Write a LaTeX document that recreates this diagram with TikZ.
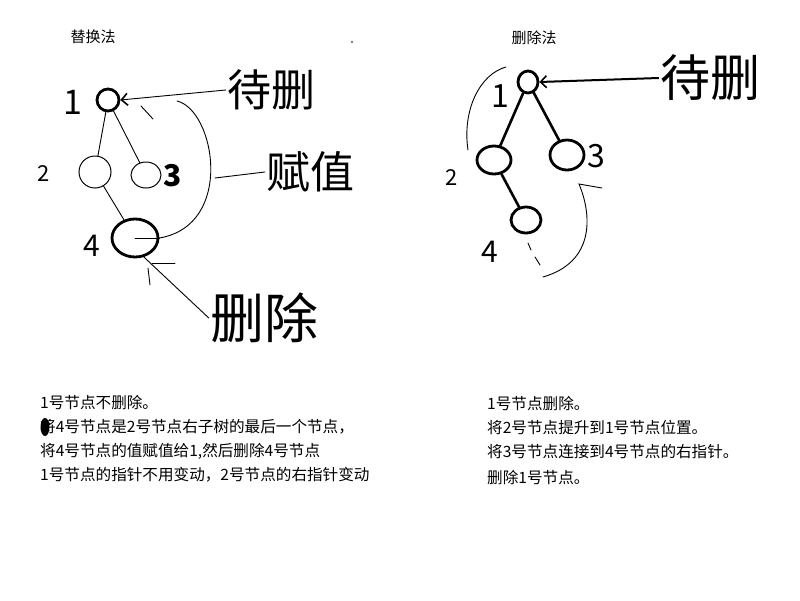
\documentclass[tikz,border=0pt]{standalone}
\usepackage{fontspec}
\newfontfamily\cjk{Noto Sans CJK SC}
\usetikzlibrary{shapes.geometric,arrows.meta}
\begin{document}
\begin{tikzpicture}[x=1pt,y=-1pt,
  thinnode/.style={draw,ellipse,line width=1pt,inner sep=0pt},
  thicknode/.style={draw,ellipse,line width=2.8pt,inner sep=0pt},
  thinline/.style={line width=0.9pt,line cap=round},
  thickline/.style={line width=2.6pt,line cap=round},
  handarrow/.style={-{Straight Barb[length=6pt,width=12pt,line width=1.6pt]}},
  title/.style={font=\cjk\fontsize{15}{15}\selectfont},
  body/.style={font=\cjk\fontsize{15.6}{24}\selectfont,anchor=west,inner sep=0pt},
  hand/.style={font=\cjk\fontsize{#1}{#1}\selectfont,inner sep=1pt},
  digit/.style={font=\cjk\fontsize{#1}{#1}\selectfont,inner sep=0pt}]
\useasboundingbox[fill=white] (0,0) rectangle (800,600);

% ---------------- left: 替换法 ----------------
\node[title] (ltitle) at (93,37) {替换法};
\node[thicknode,minimum width=22pt,minimum height=22pt] (ln1) at (108,100) {};
\node[thinnode,minimum width=32pt,minimum height=32pt] (ln2) at (95,172) {};
\node[thinnode,minimum width=30pt,minimum height=26pt] (ln3) at (146,175) {};
\node[thicknode,minimum width=46pt,minimum height=38pt] (ln4) at (135,238) {};
\node[digit=34] (ll1) at (73,102) {1};
\node[digit=22] (ll2) at (44,174) {2};
\node[digit=30,font=\cjk\bfseries\fontsize{30}{30}\selectfont] (ll3) at (173,176) {3};
\node[digit=30] (ll4) at (92,246) {4};
\draw[thinline] (ln1) -- (ln2);
\draw[thinline] (ln1) -- (ln3);
\draw[thinline] (ln2) -- (ln4);

\node[hand=44] (ldai) at (271,90) {待删};
\node[hand=44] (lfu) at (310,172) {赋值};
\node[hand=54] (lshan) at (264,318) {删除};
\draw[thinline,handarrow] (ldai.west) -- (ln1.east);
\coordinate (larcs) at (177,101);
\draw[thinline] (larcs) .. controls (215,110) and (235,225) .. (ln4.east);
\draw[thinline] (ln4.center) -- (ln4.east);
\coordinate (lfus) at (215,178);
\draw[thinline] (lfus) -- (lfu.west);
\coordinate (ldash1) at (141,106);
\coordinate (ldash2) at (153,119);
\draw[thinline] (ldash1) -- (ldash2);
\draw[thinline] (ln4.-65) -- (lshan.west);
\coordinate (lu1) at (152,263);
\coordinate (lu2) at (175,263);
\draw[thinline] (lu1) -- (lu2);
\coordinate (ls1) at (148,268);
\coordinate (ls2) at (150,285);
\draw[thinline] (ls1) -- (ls2);
\fill (352,42) circle (0.8);

% ---------------- right: 删除法 ----------------
\node[title] (rtitle) at (534,38) {删除法};
\node[thicknode,minimum width=20pt,minimum height=22pt] (rn1) at (528,82) {};
\node[thicknode,minimum width=34pt,minimum height=28pt] (rn2) at (494,160) {};
\node[thicknode,minimum width=34pt,minimum height=30pt] (rn3) at (567,155) {};
\node[thicknode,minimum width=30pt,minimum height=26pt] (rn4) at (526,220) {};
\node[digit=32] (rl1) at (500,96) {1};
\node[digit=22] (rl2) at (452,178) {2};
\node[digit=32] (rl3) at (596,156) {3};
\node[digit=30] (rl4) at (490,252) {4};
\draw[thickline] (rn1) -- (rn2);
\draw[thickline] (rn1) -- (rn3);
\draw[thickline] (rn2) -- (rn4);

\node[hand=50] (rdai) at (710,78) {待删};
\draw[line width=2pt,handarrow] (rdai.west) -- (rn1.east);
\coordinate (ra1) at (506,67);
\coordinate (ra2) at (468,150);
\draw[thinline] (ra1) .. controls (480,74) and (462,110) .. (ra2);
\coordinate (rb1) at (602,188);
\coordinate (rb2) at (579,184);
\coordinate (rb3) at (543,277);
\draw[thinline] (rb1) -- (rb2) .. controls (592,215) and (595,262) .. (rb3);
\coordinate (rd1) at (528,243);
\coordinate (rd2) at (531,250);
\coordinate (rd3) at (535,257);
\coordinate (rd4) at (540,265);
\draw[thinline] (rd1) -- (rd2);
\draw[thinline] (rd3) -- (rd4);

% ---------------- text ----------------
\node[body] (t1) at (40,403) {1号节点不删除。};
\node[body] (t2) at (40,427) {将4号节点是2号节点右子树的最后一个节点，};
\fill (45,427) ellipse (4.5 and 9);
\node[body] (t3) at (40,451) {将4号节点的值赋值给1,然后删除4号节点};
\node[body] (t4) at (40,475) {1号节点的指针不用变动，2号节点的右指针变动};

\node[body] (r1) at (487,404) {1号节点删除。};
\node[body] (r2) at (487,428) {将2号节点提升到1号节点位置。};
\node[body] (r3) at (487,452) {将3号节点连接到4号节点的右指针。};
\node[body] (r4) at (487,478) {删除1号节点。};
\end{tikzpicture}
\end{document}
